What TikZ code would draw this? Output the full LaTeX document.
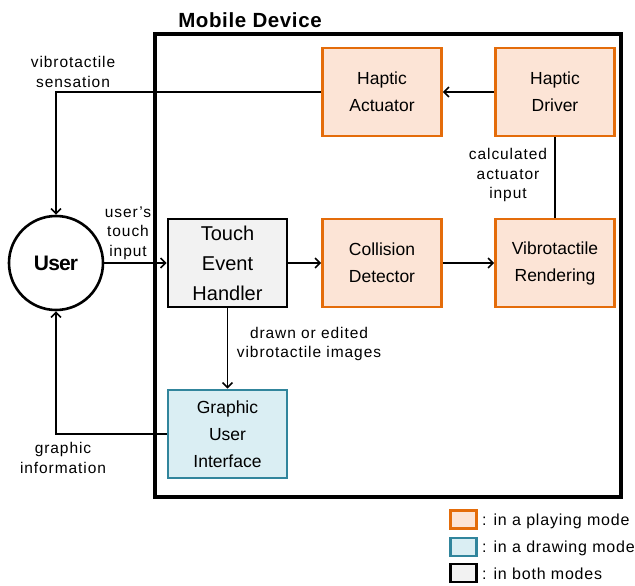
\documentclass[tikz,border=0pt]{standalone}
\usepackage{fontspec}
\setmainfont{Liberation Sans}
\usetikzlibrary{arrows.meta}
\definecolor{orB}{HTML}{E46C0A}
\definecolor{orF}{HTML}{FCE4D6}
\definecolor{blB}{HTML}{31859C}
\definecolor{blF}{HTML}{DAEEF3}
\definecolor{grF}{HTML}{F2F2F2}
\newcommand{\labfont}{\fontsize{15.5}{19.5}\selectfont\addfontfeature{LetterSpace=6}}
\tikzset{
  blk/.style={rectangle, minimum width=119pt, minimum height=88pt, inner sep=0pt, align=center, line width=2.6pt},
  play/.style={blk, draw=orB, fill=orF, font=\fontsize{17.5}{27}\selectfont},
  drawm/.style={blk, draw=blB, fill=blF, font=\fontsize{17.5}{27}\selectfont},
  both/.style={blk, draw=black, fill=grF, font=\fontsize{20}{30}\selectfont},
  conn/.style={line width=1.8pt, -{Straight Barb[length=5pt,width=10pt,line width=1.6pt]}},
  plainconn/.style={line width=1.8pt},
  lab/.style={align=center, inner sep=0pt, font=\labfont},
  legbox/.style={rectangle, minimum width=26pt, minimum height=18pt, inner sep=0pt, line width=2.4pt},
  legtxt/.style={anchor=west, inner sep=0pt, font=\fontsize{16}{18}\selectfont\addfontfeature{LetterSpace=5}}
}
\begin{document}
\begin{tikzpicture}[x=1pt,y=-1pt]
\useasboundingbox (0,0) rectangle (635,586);
% device frame
\node[draw, line width=3.2pt, minimum width=466pt, minimum height=463pt, inner sep=0pt] (dev) at (388,265.5) {};
\node[inner sep=0pt, font=\bfseries\fontsize{20.5}{22}\selectfont\addfontfeature{LetterSpace=3}] (title) at (250,20) {Mobile Device};
% blocks
\node[play] (act) at (382,92) {Haptic\\Actuator};
\node[play] (drv) at (555,92) {Haptic\\Driver};
\node[play] (col) at (382,263) {Collision\\Detector};
\node[play] (vib) at (555,263) {Vibrotactile\\Rendering};
\node[both] (teh) at (227.5,263) {Touch\\Event\\Handler};
\node[drawm] (gui) at (227.5,434) {Graphic\\User\\Interface};
% user
\node[circle, draw, line width=2.6pt, minimum size=94pt, inner sep=0pt, font=\bfseries\fontsize{21}{22}\selectfont\addfontfeature{LetterSpace=-4}] (user) at (56,263) {User};
% connectors
\draw[conn] (drv.west) -- (act.east);
\draw[conn] (act.west) -| (user.north);
\draw[plainconn] (drv.south) -- (vib.north);
\draw[conn] (user.east) -- (teh.west);
\draw[conn] (teh.east) -- (col.west);
\draw[conn] (col.east) -- (vib.west);
\draw[conn] (teh.south) -- (gui.north);
\draw[conn] (gui.west) -| (user.south);
% labels
\node[lab] (l1) at (73,72) {vibrotactile\\sensation};
\node[lab] (l2) at (128,233) {user's\\touch\\input};
\node[lab] (l3) at (508,175) {calculated\\actuator\\input};
\node[lab] (l4) at (309,344) {drawn or edited\\vibrotactile images};
\node[lab] (l5) at (63,458) {graphic\\information};
% legend
\node[legbox, draw=orB, fill=orF] (k1) at (463.5,519.5) {};
\node[legbox, draw=blB, fill=blF] (k2) at (463.5,547) {};
\node[legbox, draw=black, fill=grF] (k3) at (463.5,573) {};
\node[legtxt] (t1) at (482,521) {: in a playing mode};
\node[legtxt] (t2) at (482,548) {: in a drawing mode};
\node[legtxt] (t3) at (482,574) {: in both modes};
\end{tikzpicture}
\end{document}
